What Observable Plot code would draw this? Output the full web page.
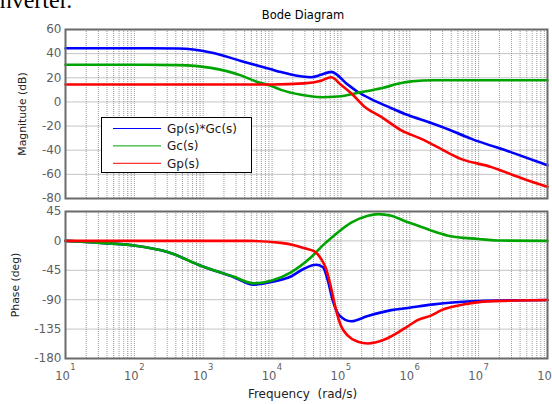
<!DOCTYPE html>
<html>
<head>
<meta charset="utf-8">
<script src="https://cdn.jsdelivr.net/npm/d3@7"></script>
<script src="https://cdn.jsdelivr.net/npm/@observablehq/plot@0.6"></script>
<style>
  html,body{margin:0;padding:0;background:#fff;}
  #wrap{position:relative;width:552px;height:404px;overflow:hidden;font-family:"DejaVu Sans",sans-serif;}
  #magPanel{position:absolute;left:0;top:0;}
  #phasePanel{position:absolute;left:0;top:204px;}
  #phasePanel text{white-space:pre;}
  #doc{position:absolute;left:-7px;top:-12px;font-family:"Liberation Serif",serif;font-size:24px;line-height:24px;color:#000;white-space:nowrap;}
  #title{position:absolute;left:203px;width:200px;text-align:center;top:10px;font-size:11.5px;line-height:11.5px;color:#000;}
  #legend{position:absolute;left:0;top:0;}
</style>
</head>
<body>
<div id="wrap">
  <div id="doc">inverter.</div>
  <div id="magPanel"></div>
  <div id="phasePanel"></div>
  <div id="title">Bode Diagram</div>
  <svg id="legend" width="552" height="404"></svg>
</div>
<script>
// ---- data ----
const seriesNames = ["Gp(s)*Gc(s)", "Gc(s)", "Gp(s)"];
const seriesColors = ["#0000ff", "#00a400", "#ff0000"];

const freqTicks = [1e1, 1e2, 1e3, 1e4, 1e5, 1e6, 1e7, 1e8];
const magTicks = [-80, -60, -40, -20, 0, 20, 40, 60];
const phaseTicks = [-180, -135, -90, -45, 0, 45];

// magnitude (dB)
const magBlueFreq = [10, 100, 430, 1290, 3520, 9640, 13500, 18800, 36800, 51500, 72000, 126000, 177000, 275000, 482000, 940000, 1810000, 2880000, 7860000, 30000000, 100000000];
const magBlue     = [44.5, 44.5, 44.3, 41, 34, 27, 24.7, 22.7, 20.5, 22.5, 24.9, 14.3, 8.2, 2.3, -3.9, -10.9, -16.5, -20.5, -30.6, -41.8, -52.4];

const magGreenFreq = [10, 100, 430, 1290, 3520, 5830, 9640, 13500, 26300, 51500, 90000, 197000, 385000, 752000, 1050000, 2270000, 9900000, 100000000];
const magGreen     = [30.8, 30.8, 30.5, 28.2, 22, 17, 13.3, 10, 5.9, 3.9, 4.5, 8.1, 11.4, 15.6, 17, 17.9, 17.9, 17.9];

const magRedFreq = [10, 1000, 10000, 29000, 51500, 72000, 100000, 141000, 220000, 385000, 752000, 1470000, 2270000, 5620000, 15400000, 21500000, 46400000, 100000000];
const magRed     = [14.5, 14.5, 14.5, 15.4, 17.6, 20.4, 14.3, 7.2, -3.9, -12.4, -23.5, -30.6, -36, -47.4, -54, -57, -64, -70.3];

// phase (deg)
const phBlueFreq = [10, 32, 98, 305, 923, 2790, 5450, 9640, 18800, 29000, 43600, 54500, 64500, 76000, 95000, 141000, 246000, 538000, 940000, 2060000, 9900000, 100000000];
const phBlue     = [0, -3, -7, -17, -38, -55.5, -67, -63, -54.5, -42.7, -36.6, -40, -60.5, -91, -114, -123, -115, -106, -102.7, -97.6, -92, -90.5];

const phGreenFreq = [10, 32, 98, 305, 923, 2790, 5450, 9640, 18800, 36800, 57600, 64500, 90000, 141000, 246000, 344000, 538000, 940000, 1320000, 2060000, 3600000, 9840000, 21500000, 100000000];
const phGreen     = [0, -3, -7, -17, -38, -55, -65, -61, -48, -25, -4.6, 0, 13, 28, 38.6, 41, 38.6, 28.4, 23.3, 15.7, 8, 3, 0.5, 0];

const phRedFreq = [10, 1000, 4420, 13500, 20900, 29000, 41100, 51500, 61000, 72000, 85100, 100000, 126000, 176000, 246000, 430000, 840000, 1320000, 2060000, 2880000, 6280000, 13700000, 100000000];
const phRed     = [0, 0, 0, -3, -6.5, -11, -16, -27.5, -43, -72, -106, -130, -145, -154.5, -157, -151, -134, -121, -114, -106, -97, -92.5, -90.5];

const labels = {mag: "Magnitude (dB)", phase: "Phase (deg)", freq: "Frequency  (rad/s)"};

// ---- helpers ----
const rows = (fs, vs) => fs.map((f, i) => ({f, v: vs[i]}));
const gridF = d3.scaleLog().domain([freqTicks[0], freqTicks[freqTicks.length - 1]]).ticks();

const common = {
  width: 552, marginLeft: 65, marginRight: 5,
  style: {fontFamily: "DejaVu Sans, sans-serif", fontSize: "12px", color: "#5f5f5f", background: "transparent", overflow: "visible"},
};
const xOpt = {type: "log", domain: [freqTicks[0], freqTicks[freqTicks.length - 1]], axis: null};
const lineOpt = {x: "f", y: "v", strokeWidth: 2.6, curve: "monotone-x"};

function seriesMarks(list) {
  return list.map(([fs, vs], i) => Plot.line(rows(fs, vs), {...lineOpt, stroke: seriesColors[i]}));
}

// ---- magnitude panel ----
const mag = Plot.plot({
  ...common,
  height: 205, marginTop: 29, marginBottom: 7,
  x: xOpt,
  y: {domain: [magTicks[0], magTicks[magTicks.length - 1]], ticks: magTicks, tickSize: 0, tickPadding: 4, tickFormat: d => String(d), label: null},
  marks: [
    Plot.ruleY(magTicks, {stroke: "#c4c4c4", strokeWidth: 1}),
    Plot.ruleX(gridF, {stroke: "#9a9a9a", strokeWidth: 1, strokeDasharray: "1,1"}),
    ...seriesMarks([[magBlueFreq, magBlue], [magGreenFreq, magGreen], [magRedFreq, magRed]]),
    Plot.frame({stroke: "#6a6a6a", strokeWidth: 2}),
    Plot.text([labels.mag], {frameAnchor: "left", text: d => d, rotate: -90, dx: -43, textAnchor: "middle", lineAnchor: "middle", fill: "#222", fontSize: 10.8})
  ]
});
document.getElementById("magPanel").append(mag);

// ---- phase panel ----
const phase = Plot.plot({
  ...common,
  height: 200, marginTop: 7, marginBottom: 46,
  x: xOpt,
  y: {domain: [phaseTicks[0], phaseTicks[phaseTicks.length - 1]], ticks: phaseTicks, tickSize: 0, tickPadding: 4, tickFormat: d => String(d), label: null},
  marks: [
    Plot.ruleY(phaseTicks, {stroke: "#c4c4c4", strokeWidth: 1}),
    Plot.ruleX(gridF, {stroke: "#9a9a9a", strokeWidth: 1, strokeDasharray: "1,1"}),
    ...seriesMarks([[phBlueFreq, phBlue], [phGreenFreq, phGreen], [phRedFreq, phRed]]),
    Plot.frame({stroke: "#6a6a6a", strokeWidth: 2}),
    Plot.text(freqTicks, {x: d => d, frameAnchor: "bottom", text: () => "10", dx: -3, dy: 17.5, textAnchor: "middle", lineAnchor: "middle", fill: "#5f5f5f", fontSize: 11.5}),
    Plot.text(freqTicks, {x: d => d, frameAnchor: "bottom", text: d => String(Math.round(Math.log10(d))), dx: 7.5, dy: 9, textAnchor: "middle", lineAnchor: "middle", fill: "#5f5f5f", fontSize: 8.5}),
    Plot.text([labels.freq], {frameAnchor: "bottom", text: d => d, dx: -4, dy: 36, textAnchor: "middle", lineAnchor: "middle", fill: "#222", fontSize: 12}),
    Plot.text([labels.phase], {frameAnchor: "left", text: d => d, rotate: -90, dx: -50, textAnchor: "middle", lineAnchor: "middle", fill: "#222", fontSize: 10.8})
  ]
});
document.getElementById("phasePanel").append(phase);

// ---- legend ----
const lg = d3.select("#legend");
lg.append("rect").attr("x", 101.5).attr("y", 117.5).attr("width", 150).attr("height", 55)
  .attr("fill", "#fff").attr("stroke", "#000").attr("stroke-width", 1);
seriesNames.forEach((name, i) => {
  const y = 128.5 + i * 17.4;
  lg.append("line").attr("x1", 113).attr("x2", 161).attr("y1", y).attr("y2", y)
    .attr("stroke", seriesColors[i]).attr("stroke-width", 1);
  lg.append("text").attr("x", 167).attr("y", y).attr("dy", "0.35em")
    .attr("font-family", "DejaVu Sans, sans-serif").attr("font-size", 12).attr("fill", "#1a1a1a").text(name);
});
</script>
</body>
</html>
